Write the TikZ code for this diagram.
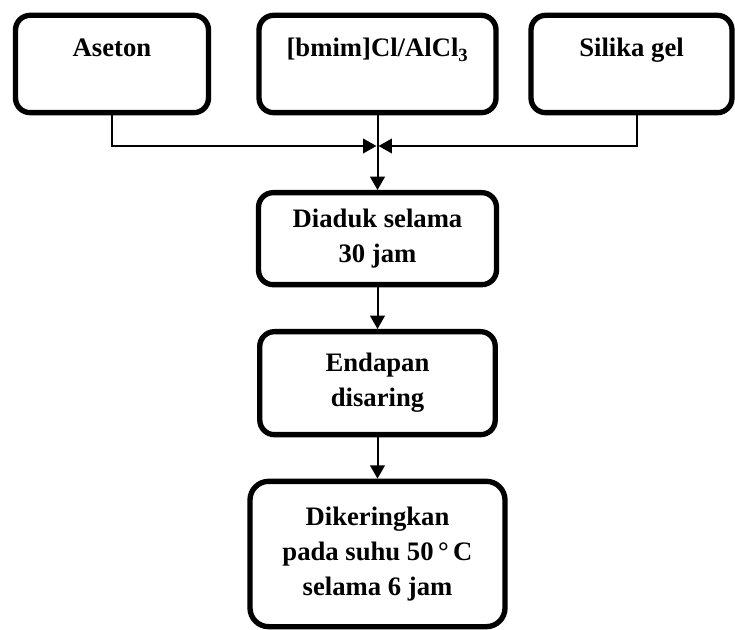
\documentclass[tikz,border=0pt]{standalone}
\usepackage{fontspec}
\setmainfont{Liberation Serif}
\usetikzlibrary{positioning}
\usetikzlibrary{arrows.meta}
\tikzset{	node distance=2.5cm,
	proc/.style={
		draw,
		rounded corners=11pt,
		line width=4pt,
		align=center,
		font=\bfseries\fontsize{20}{26.25}\selectfont},
	bahan/.style={
		proc,
		minimum height=73pt,
		text height=14pt,
		text depth=24.5pt},
	every edge/.style={
		draw,
		-{Triangle[length=10pt,width=11pt]},
		line width=1.5pt},
	sideflow/.style={
		-{Triangle[length=10pt,width=11pt]},
		line width=1.2pt}
}

\begin{document}
\begin{tikzpicture}[x=0.75pt,y=-0.75pt]
	\useasboundingbox (0,0) rectangle (735,630);
	\node[bahan, minimum width=144.75pt] (aseton) at (112,64) {Aseton};
	\node[bahan, minimum width=177.75pt] (bmim) at (377.5,64) {[bmim]Cl/AlCl\textsubscript{3}};
	\node[bahan, minimum width=150.75pt] (silika) at (631.5,64) {Silika gel};
	\node[proc, minimum width=178.5pt, minimum height=69pt, below=56pt of bmim] (aduk) {Diaduk selama\\30 jam};
	\node[proc, minimum width=176.6pt, minimum height=77.25pt, below=31.25pt of aduk] (saring) {Endapan\\disaring};
	\node[proc, minimum width=191.25pt, minimum height=109pt, rounded corners=14pt, below=31pt of saring] (kering) {Dikeringkan\\pada suhu 50\,°\,C\\selama 6 jam};
	\coordinate (temu) at (bmim.south |- 0,146);
	\draw[sideflow] (aseton.south) |- ([xshift=-0.8pt]temu);
	\draw[sideflow] ([xshift=4pt]silika.south) |- ([xshift=0.8pt]temu);
	\draw (bmim) edge (aduk);
	\draw (aduk) edge (saring);
	\draw (saring) edge (kering);
\end{tikzpicture}
\end{document}
